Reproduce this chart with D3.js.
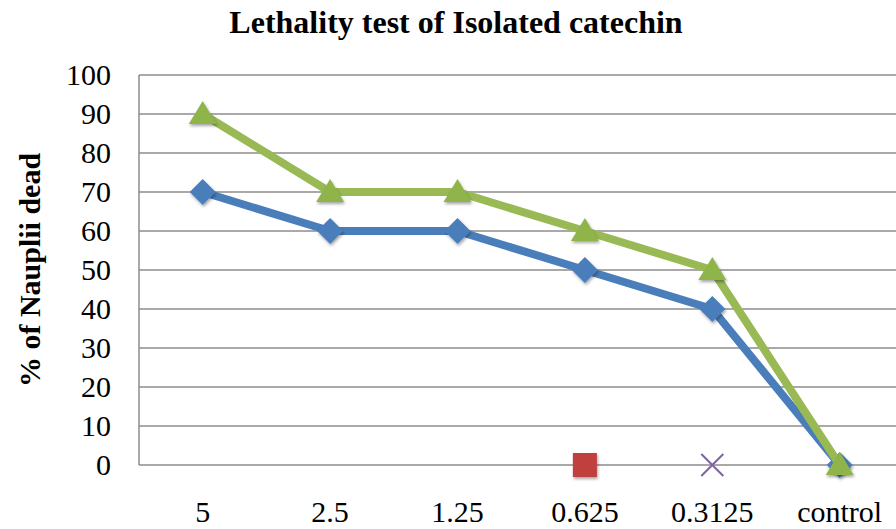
<!DOCTYPE html>
<html>
<head>
<meta charset="utf-8">
<script src="https://cdn.jsdelivr.net/npm/d3@7"></script>
<style>
  body { margin: 0; background: #fff; }
</style>
</head>
<body>
<svg id="chart" width="896" height="529" font-family="'Liberation Serif', 'Times New Roman', 'DejaVu Serif', serif"></svg>
<script>
// Donnees.
const categories = ["5", "2.5", "1.25", "0.625", "0.3125", "control"];
const seriesBlue = [70, 60, 60, 50, 40, 0];
const seriesGreen = [90, 70, 70, 60, 50, 0];
const seriesRed = [null, null, null, 0, null, null];
const seriesPurple = [null, null, null, null, 0, null];
const yTicks = [0, 10, 20, 30, 40, 50, 60, 70, 80, 90, 100];

const svg = d3.select("#chart");
const plotLeft = 139, plotTop = 75, plotBottom = 465;
const band = 127.4;

const x = d3.scaleBand()
    .domain(categories)
    .range([plotLeft, plotLeft + band * categories.length])
    .paddingInner(0).paddingOuter(0);
const cx = function(c) { return x(c) + x.bandwidth() / 2; };
const y = d3.scaleLinear().domain([0, 100]).range([plotBottom, plotTop]);

// Ombre legere sous les marqueurs.
const defs = svg.append("defs");
const f = defs.append("filter").attr("id", "shadow")
    .attr("x", "-50%").attr("y", "-50%").attr("width", "200%").attr("height", "200%");
f.append("feDropShadow").attr("dx", 1).attr("dy", 2).attr("stdDeviation", 1.5)
    .attr("flood-color", "#000").attr("flood-opacity", 0.35);

// Titre
svg.append("text")
    .attr("x", 456).attr("y", 33)
    .attr("text-anchor", "middle")
    .attr("font-weight", "bold").attr("font-size", 32)
    .text("Lethality test of Isolated catechin");

// Titre de l'axe Y
svg.append("text")
    .attr("transform", "translate(40,270) rotate(-90)")
    .attr("text-anchor", "middle")
    .attr("font-weight", "bold").attr("font-size", 30)
    .text("% of Nauplii dead");

// Grille horizontale
svg.append("g").selectAll("line")
    .data(yTicks).enter().append("line")
    .attr("x1", plotLeft).attr("x2", 896)
    .attr("y1", function(d) { return y(d); })
    .attr("y2", function(d) { return y(d); })
    .attr("stroke", "#8c8c8c").attr("stroke-width", 1.5);

svg.append("line")
    .attr("x1", plotLeft).attr("x2", plotLeft).attr("y1", plotTop).attr("y2", plotBottom)
    .attr("stroke", "#8c8c8c").attr("stroke-width", 1.5);

// Labels Y
svg.append("g").selectAll("text")
    .data(yTicks).enter().append("text")
    .attr("x", 111).attr("y", function(d) { return y(d); })
    .attr("dy", "0.34em")
    .attr("text-anchor", "end")
    .attr("font-size", 30)
    .text(function(d) { return d; });

// Labels X
svg.append("g").selectAll("text")
    .data(categories).enter().append("text")
    .attr("x", function(d) { return cx(d); })
    .attr("y", 522)
    .attr("text-anchor", "middle")
    .attr("font-size", 30)
    .text(function(d) { return d; });

function drawLine(values, color) {
    const line = d3.line()
        .defined(function(d) { return d !== null; })
        .x(function(d, i) { return cx(categories[i]); })
        .y(function(d) { return y(d); });
    svg.append("path").datum(values)
        .attr("d", line)
        .attr("fill", "none")
        .attr("stroke", color)
        .attr("stroke-width", 8)
        .attr("stroke-linejoin", "round");
}

// Formes des marqueurs, centrees sur 0,0.
const markerShapes = {
    diamond: "M0,-13L13,0L0,13L-13,0Z",
    triangle: "M0,-13L14,10L-14,10Z",
    square: "M-12,-12H12V12H-12Z"
};

function drawMarkers(values, shape, color) {
    const pts = values.map(function(v, i) { return { v: v, c: categories[i] }; })
        .filter(function(d) { return d.v !== null; });
    svg.append("g").selectAll("path")
        .data(pts).enter().append("path")
        .attr("d", markerShapes[shape])
        .attr("transform", function(d) {
            return "translate(" + cx(d.c) + "," + y(d.v) + ")";
        })
        .attr("fill", color)
        .attr("filter", "url(#shadow)");
}

drawLine(seriesBlue, "#4a7ebb");
drawMarkers(seriesBlue, "diamond", "#4a7ebb");
drawLine(seriesGreen, "#98b954");
drawMarkers(seriesGreen, "triangle", "#8fb44a");
drawMarkers(seriesRed, "square", "#c0403c");

// Croix violette
seriesPurple.forEach(function(v, i) {
    if (v === null) return;
    const px = cx(categories[i]), py = y(v), r = 11;
    svg.append("path")
        .attr("d", "M" + (px - r) + "," + (py - r) + "L" + (px + r) + "," + (py + r) +
                   "M" + (px - r) + "," + (py + r) + "L" + (px + r) + "," + (py - r))
        .attr("stroke", "#8064a2").attr("stroke-width", 2).attr("fill", "none");
});
</script>
</body>
</html>
